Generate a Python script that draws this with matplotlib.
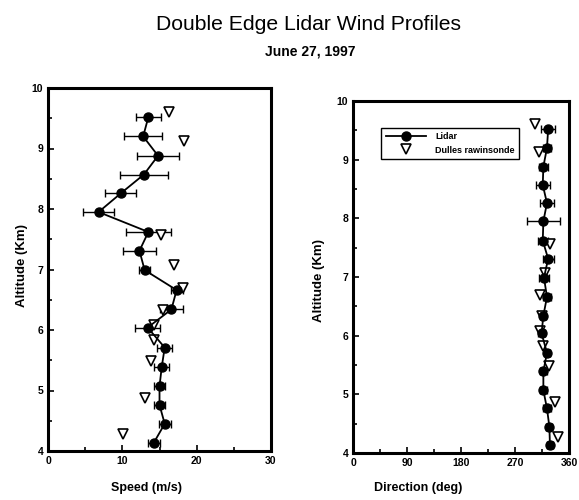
import matplotlib.pyplot as plt
from matplotlib.ticker import MultipleLocator

plt.rcParams['font.family'] = ['Liberation Sans', 'DejaVu Sans']

# lidar profile levels (km)
altitude = [4.13, 4.45, 4.76, 5.07, 5.39, 5.71, 6.04, 6.34, 6.66,
            6.99, 7.31, 7.62, 7.95, 8.26, 8.57, 8.88, 9.20, 9.52]
speed = [14.2, 15.7, 15.0, 15.0, 15.3, 15.7, 13.4, 16.6, 17.3,
         13.0, 12.3, 13.5, 6.8, 9.8, 12.9, 14.8, 12.8, 13.5]
speed_err = [0.8, 0.8, 0.7, 0.8, 1.0, 1.0, 1.7, 1.5, 0.8,
             0.7, 2.2, 3.0, 2.1, 2.1, 3.2, 2.8, 2.6, 1.7]
direction = [328, 327, 323, 317, 317, 323, 314, 317, 323,
             318, 325, 316, 317, 323, 316, 317, 323, 325]
direction_err = [5, 5, 6, 6, 6, 5, 6, 5, 6,
                 8, 9, 8, 27, 11, 12, 7, 7, 12]

# Dulles rawinsonde
sonde_alt = [4.28, 4.87, 5.48, 5.83, 6.08, 6.33, 6.69, 7.07, 7.57, 9.13, 9.6]
sonde_speed = [10.1, 13.1, 13.9, 14.2, 14.3, 15.5, 18.1, 17.0, 15.2, 18.3, 16.3]
sonde_dir = [342, 337, 326, 317, 312, 315, 312, 319, 328, 310, 303]

fig = plt.figure(figsize=(5.79, 5.0), dpi=100)
ax1 = fig.add_axes([0.083, 0.098, 0.385, 0.726])
ax2 = fig.add_axes([0.610, 0.094, 0.373, 0.704])

fig.text(0.532, 0.952, 'Double Edge Lidar Wind Profiles', ha='center', va='center',
         fontsize=15.2)
fig.text(0.535, 0.896, 'June 27, 1997', ha='center', va='center',
         fontsize=10, fontweight='bold')


def profile(ax, x, xerr, sx):
    lid = ax.errorbar(x, altitude, xerr=xerr, fmt='-o', color='black', ms=6.5,
                      lw=1.3, elinewidth=1.0, capsize=3, capthick=1.0)
    sonde, = ax.plot(sx, sonde_alt, 'v', ms=6.5, mfc='white', mec='black',
                     mew=1.2, ls='none')
    ax.set_ylim(4, 10)
    ax.yaxis.set_major_locator(MultipleLocator(1))
    ax.yaxis.set_minor_locator(MultipleLocator(0.5))
    ax.tick_params(which='both', direction='in', labelsize=7.5, width=1.2)
    ax.tick_params(which='major', length=4)
    ax.tick_params(which='minor', length=3)
    for s in ax.spines.values():
        s.set_linewidth(2.2)
    ax.set_ylabel('Altitude (Km)', fontsize=9.5, fontweight='bold')
    return lid, sonde


profile(ax1, speed, speed_err, sonde_speed)
ax1.set_xlim(0, 30)
ax1.xaxis.set_major_locator(MultipleLocator(10))
ax1.xaxis.set_minor_locator(MultipleLocator(5))
ax1.set_xlabel('Speed (m/s)', fontsize=9, fontweight='bold')
ax1.xaxis.set_label_coords(0.44, -0.085)
ax1.yaxis.set_label_coords(-0.09, 0.51)
for lab in ax1.get_xticklabels() + ax1.get_yticklabels():
    lab.set_fontweight('bold')

lid, sonde = profile(ax2, direction, direction_err, sonde_dir)
ax2.set_xlim(0, 360)
ax2.xaxis.set_major_locator(MultipleLocator(90))
ax2.xaxis.set_minor_locator(MultipleLocator(45))
ax2.set_xlabel('Direction (deg)', fontsize=9, fontweight='bold')
ax2.xaxis.set_label_coords(0.30, -0.082)
ax2.yaxis.set_label_coords(-0.13, 0.49)
for lab in ax2.get_xticklabels() + ax2.get_yticklabels():
    lab.set_fontweight('bold')

# legend shows the plain line+marker, without the error bar caps
leg = ax2.legend([lid.lines[0], sonde], ['Lidar', 'Dulles rawinsonde'],
                 loc='upper left', bbox_to_anchor=(0.11, 0.935),
                 prop={'weight': 'bold', 'size': 6.5}, fancybox=False,
                 framealpha=1, edgecolor='black', handlelength=4.5,
                 borderpad=0.45, labelspacing=0.45, handletextpad=1.0)
leg.get_frame().set_linewidth(1.0)

fig.savefig('out.png', dpi=100)
